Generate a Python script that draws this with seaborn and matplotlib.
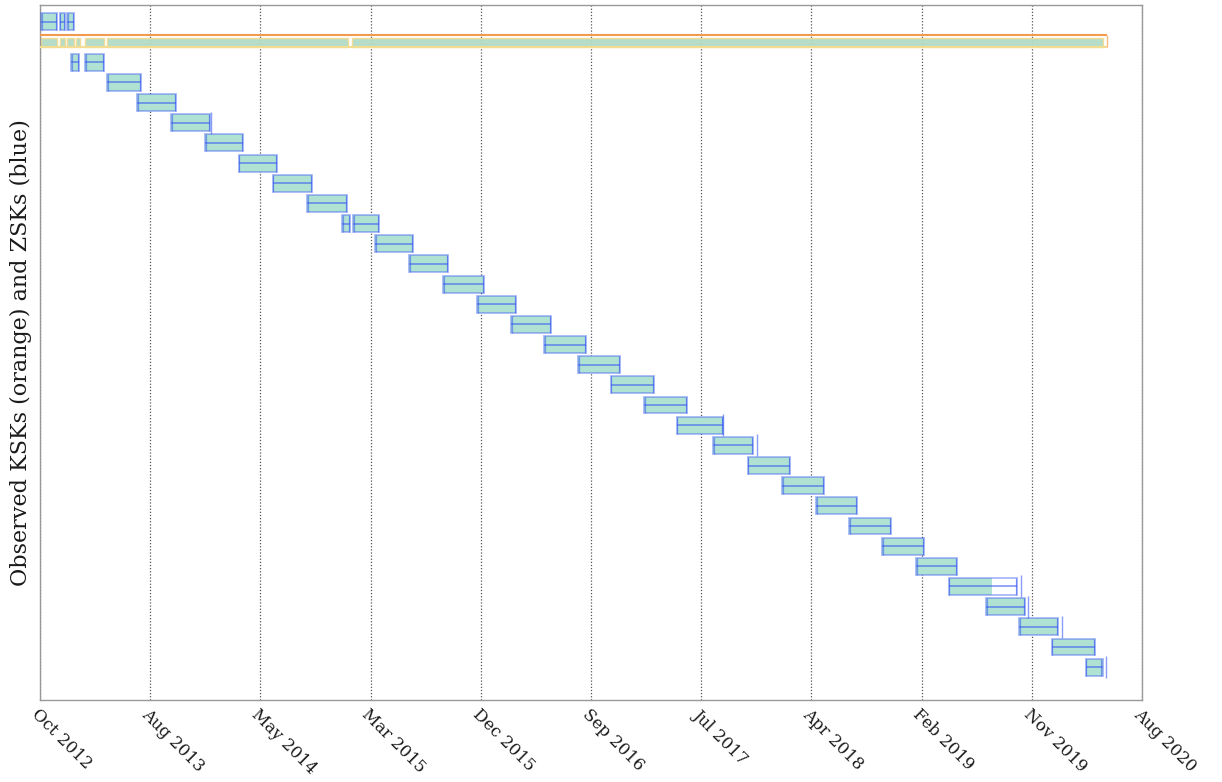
import numpy as np
import pandas as pd
import matplotlib
matplotlib.use("Agg")
import matplotlib.pyplot as plt
import matplotlib.dates as mdates
from matplotlib.patches import Rectangle
import seaborn as sns

# ---- data -------------------------------------------------------------
# Time axis range and its evenly spaced tick labels
axis_start = "2012-10-25"
axis_end = "2020-08-20"
tick_labels = ["Oct 2012", "Aug 2013", "May 2014", "Mar 2015", "Dec 2015",
               "Sep 2016", "Jul 2017", "Apr 2018", "Feb 2019", "Nov 2019",
               "Aug 2020"]

# KSK (row 1): published span and the stretches it was actually observed
ksk_row = 1
ksk_start = "2012-10-25"
ksk_end = "2020-05-20"
ksk_seen_start = ["2012-10-28", "2012-12-15", "2013-01-03", "2013-01-26",
                  "2013-02-18", "2013-04-17", "2015-01-11"]
ksk_seen_end = ["2012-12-08", "2012-12-28", "2013-01-21", "2013-02-06",
                "2013-04-09", "2015-01-01", "2020-05-10"]

# ZSKs: row, first seen, last seen, end of the observed (shaded) part
zsk_row = [0, 0, 0, 2, 2, 3, 4, 5, 6, 7, 8, 9, 10, 10, 11, 12, 13, 14, 15,
           16, 17, 18, 19, 20, 21, 22, 23, 24, 25, 26, 27, 28, 29, 30, 31, 32]
zsk_start = ["2012-10-28", "2012-12-15", "2013-01-03", "2013-01-13",
             "2013-02-18", "2013-04-17", "2013-07-03", "2013-09-29",
             "2013-12-26", "2014-03-24", "2014-06-20", "2014-09-17",
             "2014-12-16", "2015-01-14", "2015-03-12", "2015-06-08",
             "2015-09-04", "2015-12-01", "2016-02-27", "2016-05-23",
             "2016-08-19", "2016-11-12", "2017-02-06", "2017-05-02",
             "2017-08-04", "2017-11-02", "2018-01-30", "2018-04-28",
             "2018-07-22", "2018-10-16", "2019-01-12", "2019-04-07",
             "2019-07-12", "2019-10-06", "2019-12-30", "2020-03-27"]
zsk_end = ["2012-12-08", "2012-12-28", "2013-01-21", "2013-02-03",
           "2013-04-09", "2013-07-14", "2013-10-12", "2014-01-08",
           "2014-04-04", "2014-07-01", "2014-09-30", "2014-12-29",
           "2015-01-06", "2015-03-22", "2015-06-18", "2015-09-17",
           "2015-12-19", "2016-03-11", "2016-06-10", "2016-09-09",
           "2016-12-06", "2017-03-04", "2017-05-28", "2017-08-30",
           "2017-11-16", "2018-02-19", "2018-05-18", "2018-08-12",
           "2018-11-08", "2019-02-02", "2019-04-28", "2019-10-01",
           "2019-10-21", "2020-01-15", "2020-04-20", "2020-05-10"]
zsk_seen_end = list(zsk_end)
zsk_seen_end[31] = "2019-07-28"

# Signature expiry markers that reach past a key's last sighting
cap_row = [5, 20, 21, 28, 29, 30, 32]
cap_date = ["2014-01-10", "2017-08-30", "2017-11-26", "2019-10-11",
            "2019-10-29", "2020-01-25", "2020-05-18"]

# ---- styling ----------------------------------------------------------
sns.set_theme(style="white")
plt.rcParams["font.family"] = ["DejaVu Serif"]

TEAL = "#b0e2d4"
KSK_FILL = "#b2dcc4"
BLUE = "#3a5cf2"
ORANGE = "#f39a4c"
PALE = "#f2dc92"

fig = plt.figure(figsize=(12.22, 7.82), dpi=100)
ax = fig.add_axes([40 / 1222, 1 - 700 / 782, 1102 / 1222, 695 / 782])

d = lambda s: mdates.date2num(pd.Timestamp(s))

# ---- KSK row ----------------------------------------------------------
k0, k1 = d(ksk_start), d(ksk_end)
for s, e in zip(ksk_seen_start, ksk_seen_end):
    ax.add_patch(Rectangle((d(s), ksk_row - 0.21), d(e) - d(s), 0.44,
                           facecolor=KSK_FILL, edgecolor=PALE, lw=1.0,
                           alpha=0.95, zorder=2))
ax.hlines(ksk_row - 0.33, k0, k1, color=ORANGE, lw=1.5, zorder=3)
ax.hlines(ksk_row + 0.26, k0, k1, color=PALE, lw=1.5, zorder=3)
ax.vlines(k1, ksk_row - 0.33, ksk_row + 0.26, color=ORANGE, lw=1.0,
          alpha=0.7, zorder=3)

# ---- ZSK rows ---------------------------------------------------------
h = 0.84
for r, s, e, se in zip(zsk_row, zsk_start, zsk_end, zsk_seen_end):
    x0, x1, xs = d(s), d(e), d(se)
    ax.add_patch(Rectangle((x0, r - h / 2), xs - x0, h, facecolor=TEAL,
                           edgecolor="none", zorder=2))
    ax.add_patch(Rectangle((x0, r - h / 2), x1 - x0, h, facecolor="none",
                           edgecolor=BLUE, lw=1.4, alpha=0.4, zorder=3))
    ax.hlines(r, x0, x1, color=BLUE, lw=1.1, alpha=0.7, zorder=4)
    ax.vlines([x0 + 2, x1 - 3], r - h / 2, r + h / 2, color=BLUE, lw=0.9,
              alpha=0.55, zorder=4)

caps = pd.DataFrame({"x": [d(c) for c in cap_date], "y": cap_row})
sns.scatterplot(data=caps, x="x", y="y", marker="|", s=260, color=BLUE,
                linewidth=1.0, alpha=0.6, ax=ax, zorder=4, legend=False)

# ---- axes -------------------------------------------------------------
x_lo, x_hi = d(axis_start), d(axis_end)
ax.set_xlim(x_lo, x_hi)
ax.set_ylim(33.63, -0.84)
ticks = np.linspace(x_lo, x_hi, len(tick_labels))
ax.set_xticks(ticks)
ax.set_xticklabels(tick_labels, rotation=-45, ha="left", va="top",
                   rotation_mode="anchor", fontsize=12, color="#1a1a1a")
ax.tick_params(axis="x", length=0, pad=4)
ax.set_yticks([])
ax.set_xlabel("")
ax.set_ylabel("Observed KSKs (orange) and ZSKs (blue)", fontsize=16,
              color="#1a1a1a", labelpad=6)
ax.grid(axis="x", linestyle=(0, (1, 1.5)), color="#555555", lw=0.9)
ax.set_axisbelow(True)
for sp in ax.spines.values():
    sp.set_color("#999999")
    sp.set_linewidth(1.0)

fig.savefig("out.png", dpi=100)
